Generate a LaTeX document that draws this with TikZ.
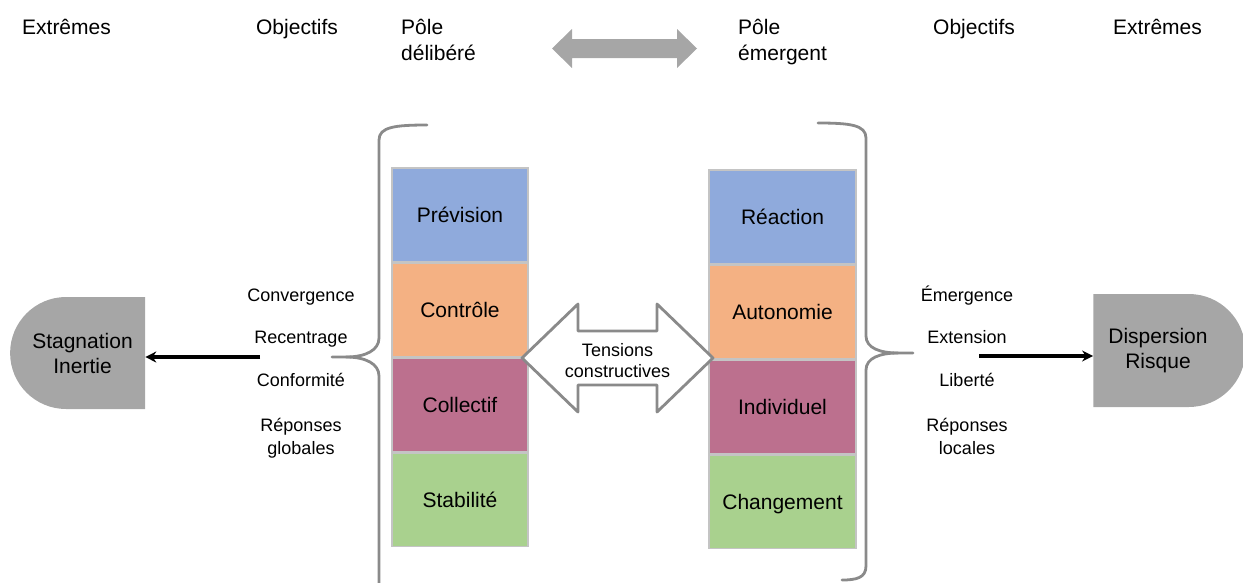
\documentclass[tikz,border=0pt]{standalone}
\usepackage{fontspec}
\setmainfont{Liberation Sans}
\usetikzlibrary{arrows.meta,positioning,shapes.misc}
\definecolor{bleu}{HTML}{8FAADC}
\definecolor{orange}{HTML}{F4B183}
\definecolor{mauve}{HTML}{BC708E}
\definecolor{vert}{HTML}{A9D18E}
\definecolor{bord}{HTML}{C4C4C4}
\definecolor{gris}{HTML}{A6A6A6}
\definecolor{trait}{HTML}{8A8A8A}
\begin{document}
\begin{tikzpicture}[x=1pt,y=-1pt,
    bloc/.style={draw=bord, line width=1.5pt, minimum height=93.5pt, inner sep=0pt,
        text height=15pt, text depth=0pt, font=\fontsize{21}{25}\selectfont},
    titre/.style={anchor=base, font=\fontsize{21}{26.5}\selectfont},
    objectif/.style={anchor=base, align=center, font=\fontsize{18}{22.5}\selectfont},
    extreme/.style={rounded rectangle, fill=gris, inner sep=0pt, align=center,
        font=\fontsize{21}{25}\selectfont},
    accolade/.style={draw=trait, line width=2.8pt, line cap=round, line join=round},
    fleche/.style={line width=3.2pt, -{Stealth[length=11pt,width=11pt]}}]
    \useasboundingbox (0,0) rectangle (1243,582);
    \clip (0,0) rectangle (1243,582);

    \node[titre] (extG) at (66.5,34) {Extrêmes};
    \node[titre] (objG) at (297,34) {Objectifs};
    \node[titre, anchor=base west, align=left, inner xsep=0pt] (poleG) at (401,60.5) {Pôle\\délibéré};
    \node[titre, anchor=base west, align=left, inner xsep=0pt] (poleD) at (738,60.5) {Pôle\\émergent};
    \node[titre] (objD) at (974,34) {Objectifs};
    \node[titre] (extD) at (1157.5,34) {Extrêmes};

    \fill[gris] (552,48.5) -- (572,29) -- (572,39) -- (677,39) -- (677,29) -- (697,48.5)
        -- (677,68) -- (677,58) -- (572,58) -- (572,68) -- cycle;

    \node[bloc, fill=bleu, minimum width=136pt] (prev) at (460,214.5) {Prévision};
    \node[bloc, fill=orange, minimum width=136pt, below=0pt of prev] (contr) {Contrôle};
    \node[bloc, fill=mauve, minimum width=136pt, below=0pt of contr] (coll) {Collectif};
    \node[bloc, fill=vert, minimum width=136pt, below=0pt of coll] (stab) {Stabilité};

    \node[bloc, fill=bleu, minimum width=147pt] (react) at (782.5,216.5) {Réaction};
    \node[bloc, fill=orange, minimum width=147pt, below=0pt of react] (auto) {Autonomie};
    \node[bloc, fill=mauve, minimum width=147pt, below=0pt of auto] (indiv) {Individuel};
    \node[bloc, fill=vert, minimum width=147pt, below=0pt of indiv] (chang) {Changement};

    \draw[accolade] (427,125) .. controls (395,125) and (379,127) .. (379,140) -- (379,338)
        .. controls (379,350) and (366,357) .. (346,357) -- (332,357);
    \draw[accolade] (346,357) .. controls (366,357) and (379,364) .. (379,376) -- (379,590);
    \draw[accolade] (818,123) .. controls (850,123) and (866,125) .. (866,138) -- (866,336)
        .. controls (866,348) and (880,353) .. (898,353) -- (913,353);
    \draw[accolade] (898,353) .. controls (880,353) and (866,358) .. (866,370) -- (866,566)
        .. controls (866,578) and (856,580) .. (842,580);

    \draw[trait, fill=white, line width=2.8pt, line join=round] (522,358) -- (578,304) -- (578,331)
        -- (657,331) -- (657,304) -- (713,358) -- (657,412) -- (657,385) -- (578,385)
        -- (578,412) -- cycle;
    \node[align=center, font=\fontsize{18}{21}\selectfont] (tens) at (617.5,361) {Tensions\\constructives};

    \node[objectif] (convG) at (301,301) {Convergence};
    \node[objectif] (recG) at (301,343) {Recentrage};
    \node[objectif] (confG) at (301,386) {Conformité};
    \node[objectif] (repG) at (301,454) {Réponses\\globales};

    \node[objectif] (emD) at (967,301) {Émergence};
    \node[objectif] (extnD) at (967,343) {Extension};
    \node[objectif] (libD) at (967,386) {Liberté};
    \node[objectif] (repD) at (967,454) {Réponses\\locales};

    \node[extreme, rounded rectangle east arc=none, minimum width=135pt, minimum height=112pt]
        (stag) at (79.5,353) {\hspace*{6pt}Stagnation\\\hspace*{6pt}Inertie};
    \node[extreme, rounded rectangle west arc=none, minimum width=152pt, minimum height=113pt]
        (disp) at (1167,350.5) {Dispersion\hspace*{18pt}\\Risque\hspace*{18pt}};

    \coordinate (depG) at (260,357);
    \coordinate (depD) at (979,356);
    \draw[fleche] (depG) -- (stag.east |- depG);
    \draw[fleche] (depD) -- (disp.west |- depD);
\end{tikzpicture}
\end{document}
